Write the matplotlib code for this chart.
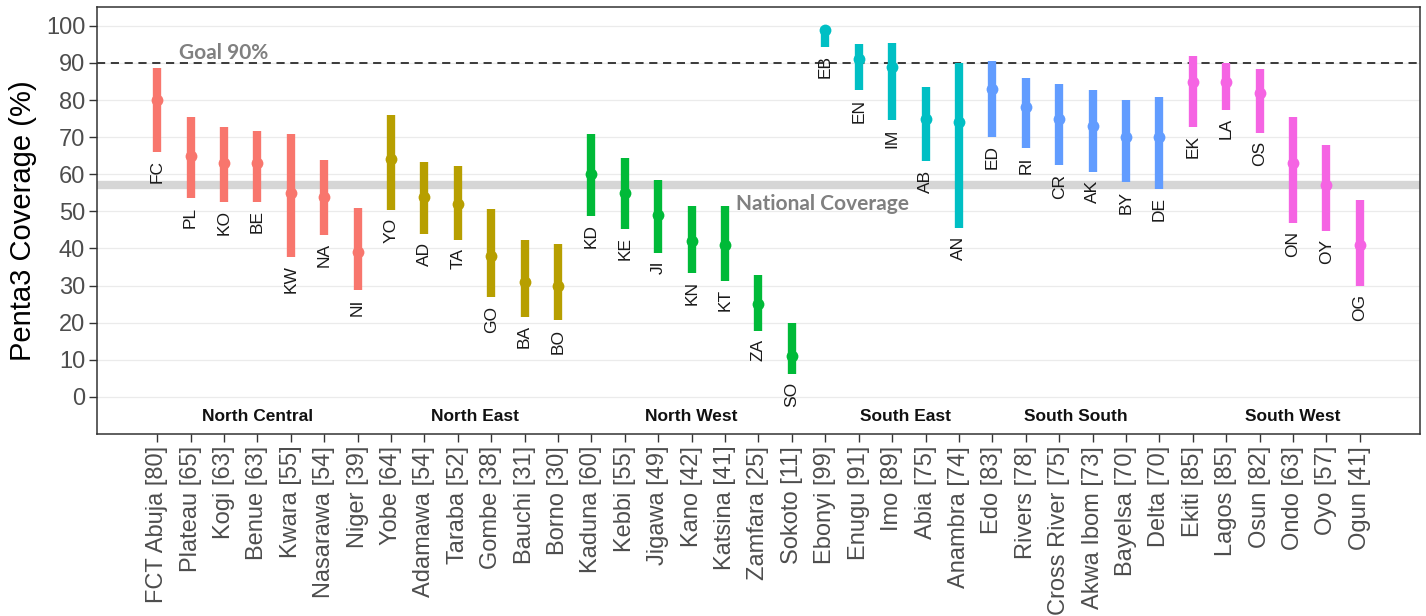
import numpy as np
import matplotlib
matplotlib.use("Agg")
from matplotlib import pyplot as plt

plt.rcParams['font.family'] = ['Liberation Sans', 'DejaVu Sans']

# Penta3 coverage by state, with 95% confidence intervals
states = ["FCT Abuja", "Plateau", "Kogi", "Benue", "Kwara", "Nasarawa", "Niger",
          "Yobe", "Adamawa", "Taraba", "Gombe", "Bauchi", "Borno",
          "Kaduna", "Kebbi", "Jigawa", "Kano", "Katsina", "Zamfara", "Sokoto",
          "Ebonyi", "Enugu", "Imo", "Abia", "Anambra",
          "Edo", "Rivers", "Cross River", "Akwa Ibom", "Bayelsa", "Delta",
          "Ekiti", "Lagos", "Osun", "Ondo", "Oyo", "Ogun"]
codes = ["FC", "PL", "KO", "BE", "KW", "NA", "NI",
         "YO", "AD", "TA", "GO", "BA", "BO",
         "KD", "KE", "JI", "KN", "KT", "ZA", "SO",
         "EB", "EN", "IM", "AB", "AN",
         "ED", "RI", "CR", "AK", "BY", "DE",
         "EK", "LA", "OS", "ON", "OY", "OG"]
coverage = [80, 65, 63, 63, 55, 54, 39,
            64, 54, 52, 38, 31, 30,
            60, 55, 49, 42, 41, 25, 11,
            99, 91, 89, 75, 74,
            83, 78, 75, 73, 70, 70,
            85, 85, 82, 63, 57, 41]
lower = [66.1, 53.5, 52.6, 52.6, 37.8, 43.6, 28.8,
         50.4, 43.9, 42.3, 26.8, 21.6, 20.6,
         48.8, 45.2, 38.9, 33.5, 31.3, 17.8, 6.2,
         94.4, 82.6, 74.5, 63.5, 45.6,
         70.0, 67.0, 62.4, 60.6, 57.8, 56.0,
         72.7, 77.4, 71.2, 47.0, 44.7, 29.9]
upper = [88.6, 75.5, 72.7, 71.8, 70.9, 63.9, 50.8,
         75.9, 63.3, 62.1, 50.6, 42.3, 41.2,
         70.8, 64.4, 58.5, 51.5, 51.5, 32.8, 20.0,
         99.8, 95.1, 95.3, 83.5, 89.9,
         90.6, 86.0, 84.2, 82.7, 80.1, 80.8,
         92.0, 89.9, 88.3, 75.5, 68.0, 53.1]

zones = ["North Central", "North East", "North West",
         "South East", "South South", "South West"]
zone_sizes = [7, 6, 7, 5, 6, 6]
zone_colors = ["#F8766D", "#B79F00", "#00BA38", "#00BFC4", "#619CFF", "#F564E3"]

national = 57
goal = 90

fig = plt.figure(figsize=(14.26, 6.16), dpi=100)
ax = fig.add_axes([0.068, 0.2955, 0.9278, 0.6932])

x = np.arange(len(states))
colors = np.repeat(zone_colors, zone_sizes)

# reference lines
ax.axhline(national, color='#d6d6d6', lw=6, zorder=1.5)
ax.axhline(goal, color='#3a3a3a', lw=1.4, ls=(0, (4.2, 2.9)), zorder=1.6)

# point ranges
for i in x:
    ax.plot([i, i], [lower[i], upper[i]], color=colors[i], lw=6,
            solid_capstyle='butt', zorder=3)
    ax.plot(i, coverage[i], 'o', color=colors[i], ms=8.5, mec='none', zorder=4)
    ax.text(i, lower[i] - 2.2, codes[i], rotation=90, ha='center', va='top',
            fontsize=12.5, color='#1a1a1a', zorder=5)

# zone names along the bottom
starts = np.cumsum([0] + zone_sizes[:-1])
zone_x = [s + (n - 1) / 2 for s, n in zip(starts, zone_sizes)]
zone_x[3] += 0.4
zone_x[5] += 0.5
for zx, name in zip(zone_x, zones):
    ax.text(zx, -5.4, name, ha='center', va='center', fontsize=12.5,
            fontweight='bold', color='#111111')

ax.text(0.66, 92.7, "Goal 90%", ha='left', va='center', fontsize=15,
        fontweight='bold', family='Lato', color='#808080')
ax.text(17.33, 52.0, "National Coverage", ha='left', va='center', fontsize=15,
        fontweight='bold', family='Lato', color='#808080')

# axes formatting
ax.set_xlim(-1.8, len(states) - 1 + 1.8)
ax.set_ylim(-10, 105.1)
ax.set_yticks(np.arange(0, 101, 10))
ax.set_xticks(x)
ax.set_xticklabels([f"{s} [{v}]" for s, v in zip(states, coverage)],
                   rotation=90, fontsize=17, color='#4d4d4d')
ax.tick_params(axis='y', labelsize=17, labelcolor='#4d4d4d')
ax.tick_params(axis='both', length=5.5, width=1.0, color='#333333', pad=3)
ax.grid(axis='y', color='#ebebeb', lw=0.9, zorder=0)
ax.set_axisbelow(True)
for sp in ax.spines.values():
    sp.set_color('#333333')
    sp.set_linewidth(1.1)

ax.set_ylabel("Penta3 Coverage (%)", fontsize=21, color='black')
ax.yaxis.set_label_coords(-0.045, 0.5)

fig.savefig("out.png", dpi=100)
